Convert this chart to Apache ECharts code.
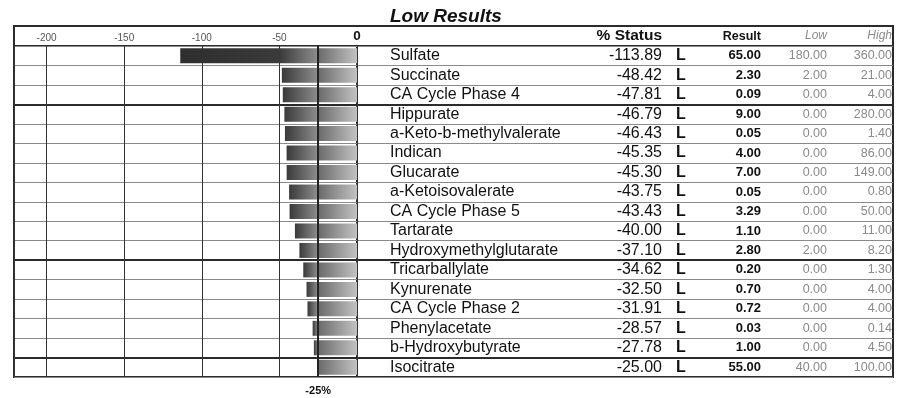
<!DOCTYPE html>
<html>
<head>
<meta charset="utf-8">
<script src="https://cdn.jsdelivr.net/npm/echarts@6/dist/echarts.min.js"></script>
<style>
    html, body { margin: 0; padding: 0; background: #fff; }
    #chart { width: 903px; height: 398px; }
</style>
</head>
<body>
<div id="chart"></div>
<script>
/* globals echarts */

// rows, top to bottom
const names = ["Sulfate", "Succinate", "CA Cycle Phase 4", "Hippurate", "a-Keto-b-methylvalerate",
    "Indican", "Glucarate", "a-Ketoisovalerate", "CA Cycle Phase 5", "Tartarate",
    "Hydroxymethylglutarate", "Tricarballylate", "Kynurenate", "CA Cycle Phase 2",
    "Phenylacetate", "b-Hydroxybutyrate", "Isocitrate"];
const status = [-113.89, -48.42, -47.81, -46.79, -46.43, -45.35, -45.30, -43.75, -43.43,
    -40.00, -37.10, -34.62, -32.50, -31.91, -28.57, -27.78, -25.00];
const flags = ["L", "L", "L", "L", "L", "L", "L", "L", "L", "L", "L", "L", "L", "L", "L", "L", "L"];
const results = ["65.00", "2.30", "0.09", "9.00", "0.05", "4.00", "7.00", "0.05", "3.29",
    "1.10", "2.80", "0.20", "0.70", "0.72", "0.03", "1.00", "55.00"];
const lows = ["180.00", "2.00", "0.00", "0.00", "0.00", "0.00", "0.00", "0.00", "0.00",
    "0.00", "2.00", "0.00", "0.00", "0.00", "0.00", "0.00", "40.00"];
const highs = ["360.00", "21.00", "4.00", "280.00", "1.40", "86.00", "149.00", "0.80", "50.00",
    "11.00", "8.20", "1.30", "4.00", "4.00", "0.14", "4.50", "100.00"];
const headers = ["% Status", "Result", "Low", "High"];
const threshold = -25;
const axisMin = -221;

// bar split at the -25% line
const nearPart = status.map(v => Math.max(v, threshold));
const farPart = status.map((v, i) => +(v - nearPart[i]).toFixed(2));

// heavier row rules (boundary index, 0 = top edge)
const heavyRules = [3, 11, 16];
const ruleColors = [];
for (let i = 0; i <= names.length; i++) {
    ruleColors.push(heavyRules.indexOf(i) >= 0 ? "#2b2b2b" : "rgba(0,0,0,0)");
}

const font = "Liberation Sans";

function rowAxis(grid, labelOpts, split) {
    return Object.assign({
        type: "category",
        gridIndex: grid,
        position: "left",
        inverse: true,
        data: names,
        axisLine: { show: false },
        axisTick: { show: false },
        axisLabel: { show: false },
        splitLine: { show: false }
    }, labelOpts ? { axisLabel: labelOpts } : {}, split ? { splitLine: split } : {});
}

function column(values, margin, align, style) {
    return Object.assign({
        show: true,
        inside: true,
        interval: 0,
        margin: margin,
        align: align,
        fontFamily: font,
        padding: [3, 0, 0, 0],
        formatter: (v, i) => values[i]
    }, style);
}

const lightRule = { show: true, lineStyle: { color: "#8a8a8a", width: 1 } };
const heavyRule = { show: true, lineStyle: { color: ruleColors, width: 2 } };

const chart = echarts.init(document.getElementById("chart"));

chart.setOption({
    animation: false,
    textStyle: { fontFamily: font },
    title: [
        { text: "Low Results", left: 390, top: 7, padding: 0,
            textStyle: { fontSize: 19, fontWeight: "bold", fontStyle: "italic", color: "#111" } },
        { text: headers[0], right: 241, top: 28, padding: 0,
            textStyle: { fontSize: 15.5, fontWeight: "bold", color: "#111" } },
        { text: headers[1], right: 142, top: 30, padding: 0,
            textStyle: { fontSize: 12.5, fontWeight: "bold", color: "#111" } },
        { text: headers[2], right: 76, top: 30, padding: 0,
            textStyle: { fontSize: 12, fontWeight: "normal", fontStyle: "italic", color: "#8a8a8a" } },
        { text: headers[3], right: 11, top: 30, padding: 0,
            textStyle: { fontSize: 12, fontWeight: "normal", fontStyle: "italic", color: "#8a8a8a" } }
    ],
    grid: [
        { left: 14, top: 46, width: 343, bottom: 21, show: true, borderColor: "#2b2b2b", borderWidth: 2 },
        { left: 357, top: 46, right: 10, bottom: 21, show: true, borderColor: "#2b2b2b", borderWidth: 2 },
        { left: 14, top: 26, right: 10, height: 20, show: true, borderColor: "#2b2b2b", borderWidth: 2 }
    ],
    xAxis: [
        {
            type: "value",
            gridIndex: 0,
            position: "top",
            min: axisMin,
            max: 0,
            splitNumber: 5,
            axisLine: { show: false },
            axisTick: { show: false },
            axisLabel: {
                margin: 3,
                showMinLabel: false,
                formatter: v => (v % 50 === 0 ? (v === 0 ? "{z|0}" : String(v)) : ""),
                fontSize: 10,
                color: "#555",
                rich: { z: { fontSize: 13.5, fontWeight: "bold", color: "#111" } }
            },
            splitLine: { show: true, lineStyle: { color: "#333", width: 1 } }
        },
        { type: "value", gridIndex: 1, show: false, min: 0, max: 1 },
        { type: "value", gridIndex: 2, show: false, min: 0, max: 1 }
    ],
    yAxis: [
        rowAxis(0, null, lightRule),
        rowAxis(0, null, heavyRule),
        rowAxis(1, column(names, 33, "left", { fontSize: 16, color: "#111" }), lightRule),
        rowAxis(1, null, heavyRule),
        rowAxis(1, column(status.map(v => v.toFixed(2)), 305, "right", { fontSize: 16, color: "#111" })),
        rowAxis(1, column(flags, 319, "left", { fontSize: 16, fontWeight: "bold", color: "#111" })),
        rowAxis(1, column(results, 404, "right", { fontSize: 13, fontWeight: "bold", color: "#111" })),
        rowAxis(1, column(lows, 470, "right", { fontSize: 12.5, color: "#8a8a8a" })),
        rowAxis(1, column(highs, 535, "right", { fontSize: 12.5, color: "#8a8a8a" })),
        { type: "value", gridIndex: 2, show: false, min: 0, max: 1 }
    ],
    series: [
        {
            type: "bar",
            name: "near",
            xAxisIndex: 0,
            yAxisIndex: 0,
            stack: "status",
            data: nearPart,
            barWidth: 15,
            itemStyle: {
                color: new echarts.graphic.LinearGradient(0, 0, 1, 0, [
                    { offset: 0, color: "#6a6a6a" },
                    { offset: 1, color: "#c2c2c2" }
                ])
            },
            markLine: {
                silent: true,
                symbol: "none",
                lineStyle: { color: "#222", width: 2, type: "solid" },
                label: {
                    show: true,
                    position: "end",
                    formatter: "-25%",
                    fontSize: 11,
                    fontWeight: "bold",
                    color: "#111",
                    distance: 8
                },
                data: [{ xAxis: threshold }]
            }
        },
        {
            type: "bar",
            name: "far",
            xAxisIndex: 0,
            yAxisIndex: 0,
            stack: "status",
            data: farPart,
            barWidth: 15,
            itemStyle: {
                color: function (p) {
                    const len = Math.abs(p.value);
                    const flat = len > 25 ? 1 - 25 / len : 0;
                    return new echarts.graphic.LinearGradient(0, 0, 1, 0, [
                        { offset: 0, color: "#2e2e2e" },
                        { offset: flat, color: "#3a3a3a" },
                        { offset: 1, color: "#8e8e8e" }
                    ]);
                }
            }
        }
    ]
});
</script>
</body>
</html>
